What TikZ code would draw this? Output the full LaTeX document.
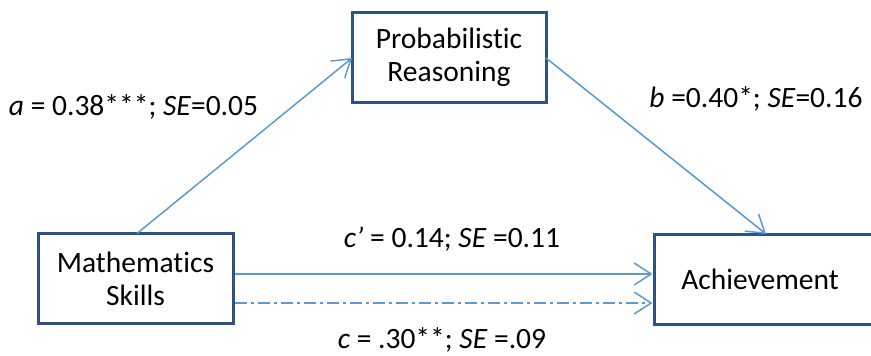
\documentclass[tikz,border=0pt]{standalone}
\usepackage{fontspec}
\setmainfont{Carlito}[Ligatures={NoCommon}]
\usetikzlibrary{arrows.meta}
\definecolor{boxblue}{RGB}{47,82,133}
\definecolor{linkblue}{RGB}{91,155,213}
\tikzset{
  varbox/.style={draw=boxblue, line width=3pt, rectangle, minimum width=#1, minimum height=90pt, inner sep=0pt, align=center, font=\fontsize{29.5}{33}\selectfont},
  link/.style={draw=linkblue, line width=1.5pt, -{Straight Barb[length=17pt,width=22pt,line width=1.5pt]}},
  lab/.style={anchor=base, inner sep=0pt, font=\fontsize{29.5}{33}\selectfont}
}
\begin{document}
\begin{tikzpicture}[x=1pt,y=-1pt]
\useasboundingbox (0,0) rectangle (871,356);
\node[varbox=195pt] (ms) at (135.5,278.5) {Mathematics\\Skills};
\node[varbox=194pt] (pr) at (449,57) {Probabilistic\\Reasoning};
\node[varbox=240pt] (ach) at (774,279) {\hspace*{-28pt}Achievement};
\coordinate (msTop) at (137,233.5);
\coordinate (prL) at (352,58);
\coordinate (prR) at (546,58);
\coordinate (achTop) at (766,234);
\draw[link] (msTop) -- (prL);
\draw[link] (prR) -- (achTop);
\draw[link] (ms.east |- 0,274) -- (ach.west |- 0,274);
\draw[link, dash pattern=on 12pt off 4pt on 3pt off 4pt] (ms.east |- 0,303) -- (ach.west |- 0,303);
\node[lab] (la) at (133.5,115) {\textit{a} = 0.38***; \textit{SE}=0.05};
\node[lab] (lb) at (756,107) {\textit{b} =0.40*; \textit{SE}=0.16};
\node[lab] (lc1) at (452,247) {\textit{c’} = 0.14; \textit{SE} =0.11};
\node[lab] (lc) at (442,348) {\textit{c} = .30**; \textit{SE} =.09};
\end{tikzpicture}
\end{document}
